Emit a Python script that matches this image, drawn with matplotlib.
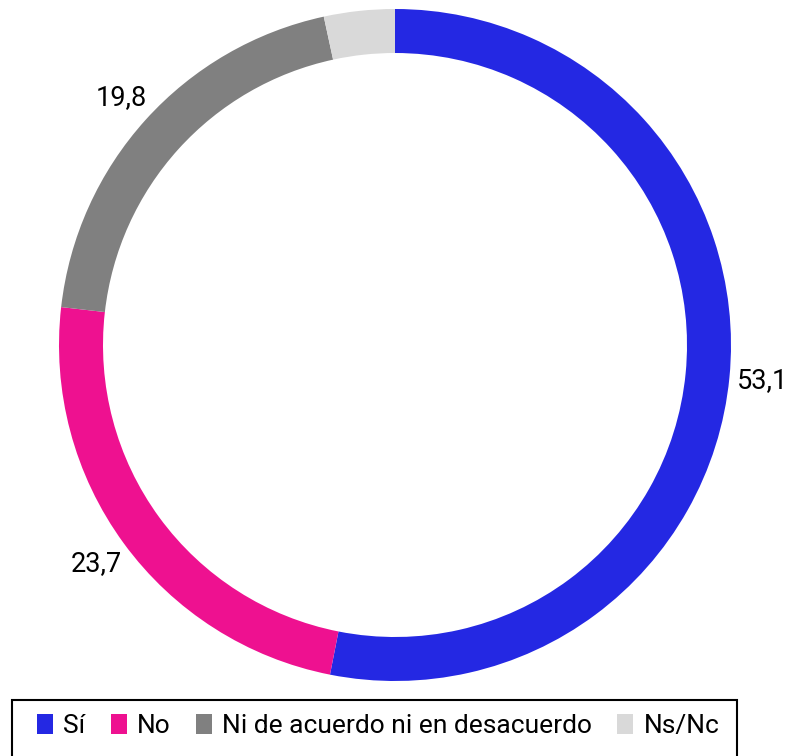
import matplotlib.pyplot as plt
from matplotlib.patches import Rectangle, Patch

plt.rcParams['font.family'] = ['Roboto', 'DejaVu Sans']

categorias = ["Sí", "No", "Ni de acuerdo ni en desacuerdo", "Ns/Nc"]
valores = [53.1, 23.7, 19.8, 3.4]
etiquetas = ["53,1", "23,7", "19,8", ""]
colores = ["#2428E3", "#EE1190", "#808080", "#D9D9D9"]

W, H = 788, 756
fig = plt.figure(figsize=(W / 100, H / 100), dpi=100)
ax = fig.add_axes([0, 0, 1, 1])

cx, cy, R = 395, 411, 336
wedges, textos = ax.pie(valores, radius=R, center=(cx, cy), startangle=90,
                        counterclock=False, colors=colores,
                        labels=etiquetas, labeldistance=1.1,
                        wedgeprops=dict(width=44, linewidth=0),
                        textprops=dict(fontsize=19.5, color="black"))
for t in textos:
    t.set_horizontalalignment("center")
    t.set_verticalalignment("center")

ax.set_xlim(0, W)
ax.set_ylim(0, H)
ax.set_aspect("equal")
ax.axis("off")

# legend frame runs off the bottom edge
fig.patches.append(Rectangle((12 / W, -0.05), 725 / W, 0.05 + 56 / H,
                             transform=fig.transFigure, fill=False,
                             edgecolor="black", linewidth=1.5))
handles = [Patch(facecolor=c, edgecolor="none") for c in colores]
fig.legend(handles, categorias, loc="center", bbox_to_anchor=(0.48, 1 - 726 / H),
           ncol=4, frameon=False, fontsize=19, handlelength=0.6,
           handleheight=0.8, handletextpad=0.4, columnspacing=0.95)

fig.savefig("out.png", dpi=100)
